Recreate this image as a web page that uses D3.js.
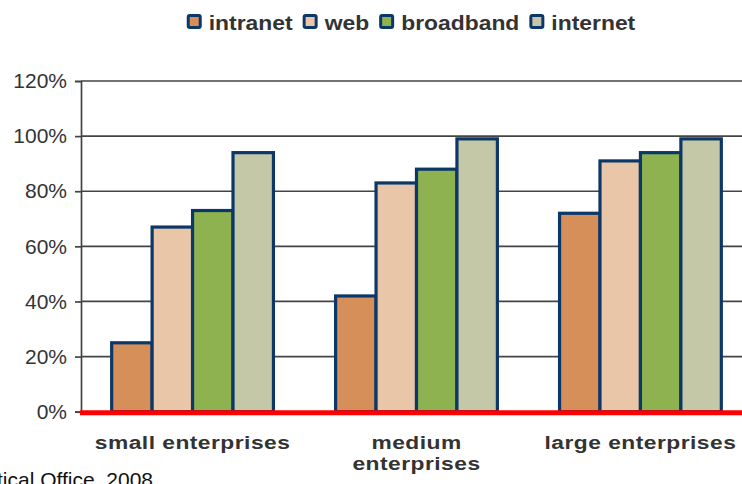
<!DOCTYPE html>
<html>
<head>
<meta charset="utf-8">
<script src="https://cdn.jsdelivr.net/npm/d3@7"></script>
<style>
  html, body { margin: 0; padding: 0; background: #fff; }
  svg { display: block; }
</style>
</head>
<body>
<svg id="chart" width="742" height="484"></svg>
<script>
// Share of enterprises using each technology, by enterprise size
const categories = ["small enterprises", "medium enterprises", "large enterprises"];
const seriesNames = ["intranet", "web", "broadband", "internet"];
const intranet  = [25, 42, 72];
const web       = [67, 83, 91];
const broadband = [73, 88, 94];
const internet  = [94, 99, 99];
const yTicks = [0, 20, 40, 60, 80, 100, 120];
const sourceNote = "Source: Central Statistical Office, 2008";

const seriesValues = [intranet, web, broadband, internet];
const colors = ["#d68f59", "#e9c6a8", "#8db24f", "#c5c8a6"];
const outline = "#0b3868";
const fontFamily = "'Liberation Sans', Arial, sans-serif";

const svg = d3.select("#chart");
const W = 742;
const plot = { left: 81, right: 752, top: 81, bottom: 411.7 };

const x0 = d3.scaleBand()
  .domain(categories)
  .range([plot.left, plot.right])
  .paddingInner(0.2776)
  .paddingOuter(0.137);

const x1 = d3.scaleBand()
  .domain(seriesNames)
  .range([0, x0.bandwidth()])
  .padding(0);

const y = d3.scaleLinear()
  .domain([0, 120])
  .range([plot.bottom, plot.top]);

const color = d3.scaleOrdinal().domain(seriesNames).range(colors);

// Horizontal gridlines
svg.append("g")
  .selectAll("line")
  .data(yTicks.filter(t => t > 0))
  .join("line")
  .attr("x1", plot.left)
  .attr("x2", W)
  .attr("y1", d => y(d))
  .attr("y2", d => y(d))
  .attr("stroke", "#444")
  .attr("stroke-width", 1.7);

// Y axis with percentage labels
const yAxis = svg.append("g")
  .attr("transform", `translate(${plot.left},0)`)
  .call(d3.axisLeft(y).tickValues(yTicks).tickFormat(d => d + "%").tickSize(6).tickPadding(8));
yAxis.select(".domain").attr("stroke", "#444").attr("stroke-width", 1.7);
yAxis.selectAll(".tick line").attr("stroke", "#444").attr("stroke-width", 1.7);
yAxis.selectAll(".tick text")
  .attr("fill", "#333")
  .style("font-family", fontFamily)
  .style("font-size", "21px");

// Bars
const rows = categories.map((c, i) => ({
  category: c,
  values: seriesNames.map((s, j) => ({ series: s, value: seriesValues[j][i] }))
}));

svg.append("g")
  .selectAll("g")
  .data(rows)
  .join("g")
  .attr("transform", d => `translate(${x0(d.category)},0)`)
  .selectAll("rect")
  .data(d => d.values)
  .join("rect")
  .attr("x", d => x1(d.series))
  .attr("y", d => y(d.value))
  .attr("width", x1.bandwidth())
  .attr("height", d => y(0) - y(d.value))
  .attr("fill", d => color(d.series))
  .attr("stroke", outline)
  .attr("stroke-width", 3.2);

// Red baseline
svg.append("line")
  .attr("x1", plot.left - 1)
  .attr("x2", W)
  .attr("y1", y(0) + 1)
  .attr("y2", y(0) + 1)
  .attr("stroke", "#ff0000")
  .attr("stroke-width", 5);

// Category labels, wrapped when too wide
const catFont = 19, catScale = 1.2, maxLabel = 210;
const catGroup = svg.append("g");
categories.forEach(c => {
  const cx = x0(c) + x0.bandwidth() / 2;
  const g = catGroup.append("g").attr("transform", `translate(${cx},449) scale(${catScale},1)`);
  const probe = g.append("text")
    .style("font-family", fontFamily)
    .style("font-weight", "bold")
    .style("font-size", catFont + "px")
    .style("letter-spacing", "0.4px")
    .text(c);
  const full = probe.node().getComputedTextLength() * catScale;
  probe.remove();
  const lines = full > maxLabel ? c.split(" ") : [c];
  lines.forEach((ln, k) => {
    g.append("text")
      .attr("y", k * 21)
      .attr("text-anchor", "middle")
      .attr("fill", "#333")
      .style("font-family", fontFamily)
      .style("font-weight", "bold")
      .style("font-size", catFont + "px")
      .style("letter-spacing", "0.4px")
      .text(ln);
  });
});

// Legend
const legFont = 21, legScale = 1.09;
const legend = svg.append("g");
let lx = 0;
seriesNames.forEach(s => {
  const it = legend.append("g");
  it.append("rect")
    .attr("x", lx + 1.5).attr("y", 15.5)
    .attr("width", 12).attr("height", 12)
    .attr("rx", 1.5)
    .attr("fill", color(s))
    .attr("stroke", outline)
    .attr("stroke-width", 3);
  const t = it.append("text")
    .attr("transform", `translate(${lx + 22},30) scale(${legScale},1)`)
    .attr("fill", "#333")
    .style("font-family", fontFamily)
    .style("font-weight", "bold")
    .style("font-size", legFont + "px")
    .text(s);
  lx += 22 + t.node().getComputedTextLength() * legScale + 10;
});
const legWidth = lx - 10;
legend.attr("transform", `translate(${411 - legWidth / 2},0)`);

// Source note
svg.append("text")
  .attr("x", 153)
  .attr("y", 487)
  .attr("text-anchor", "end")
  .attr("fill", "#111")
  .style("font-family", fontFamily)
  .style("font-size", "21px")
  .text(sourceNote);
</script>
</body>
</html>
